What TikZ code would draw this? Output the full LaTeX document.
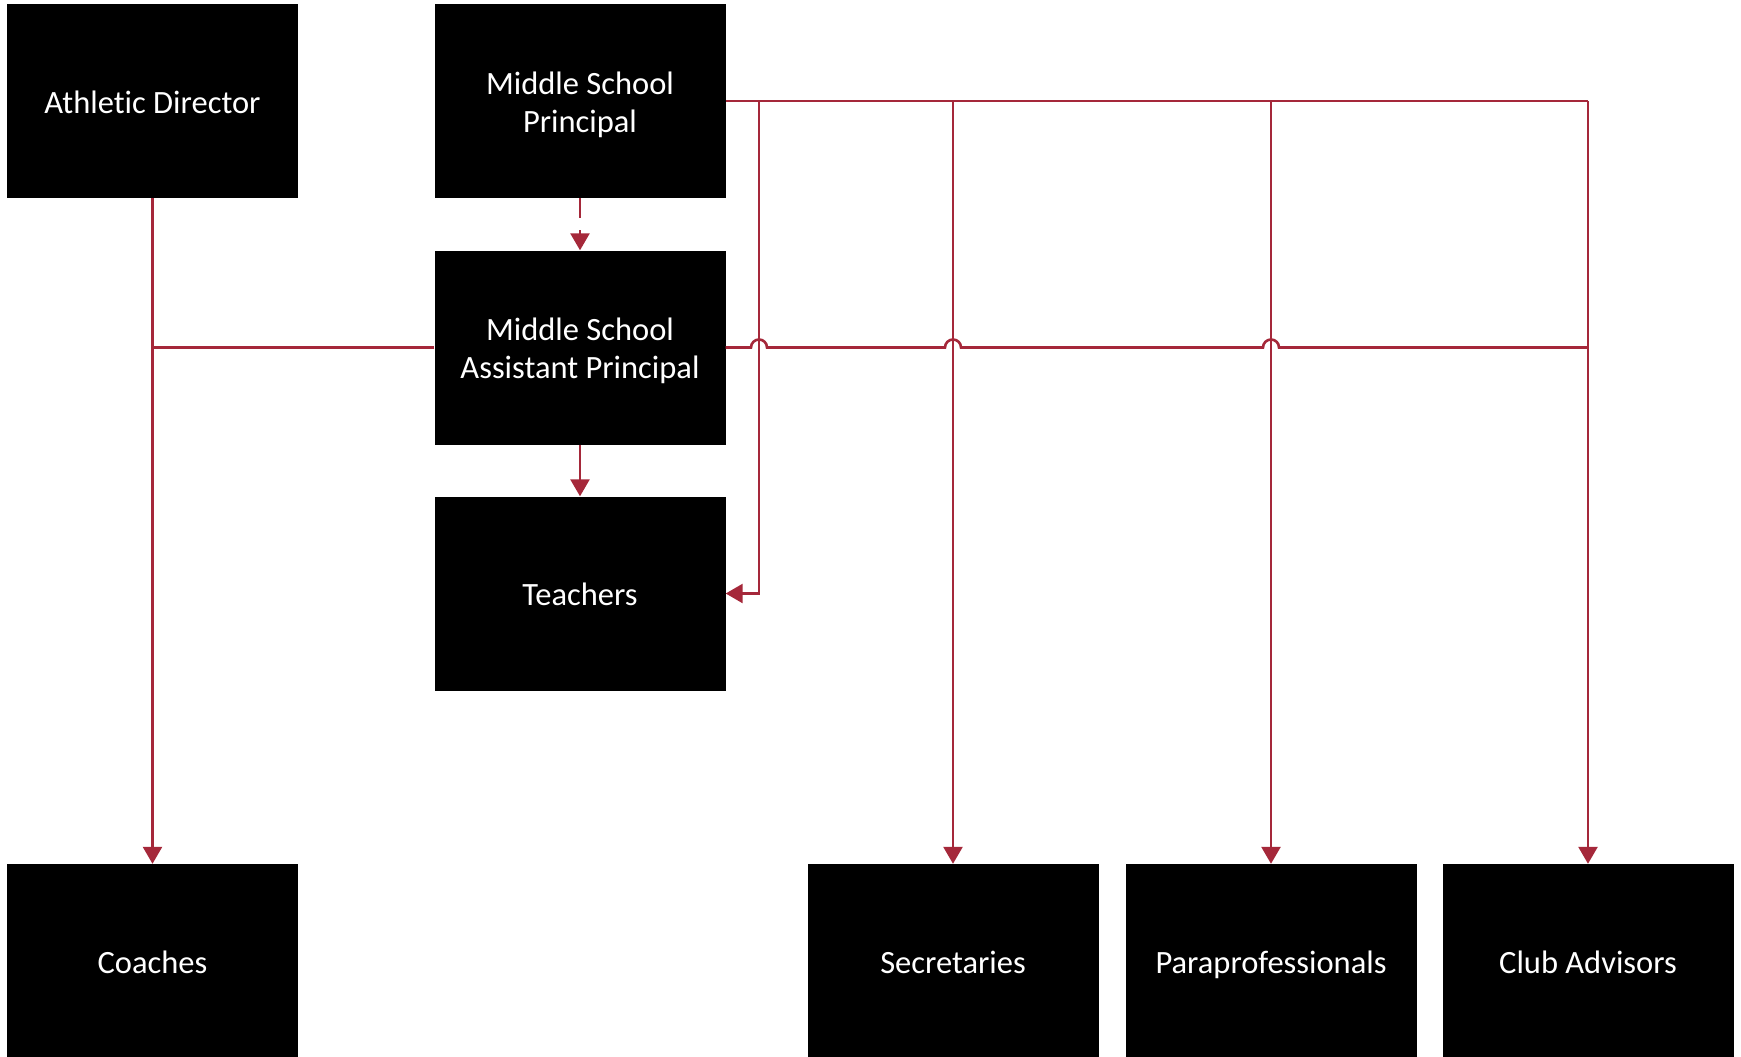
\documentclass[tikz,border=0pt]{standalone}
\usepackage{fontspec}
\setmainfont{Carlito}[Ligatures={NoCommon,NoRare},Contextuals={NoAlternate}]
\usetikzlibrary{arrows.meta,calc}
\definecolor{wire}{RGB}{165,40,58}
% strut that gives every text line the same height and depth
\newcommand\linestrut{\rule[-6.7pt]{0pt}{38pt}}
\begin{document}
\begin{tikzpicture}[x=1pt,y=1pt,
  box/.style={rectangle,fill=black,text=white,minimum width=291pt,minimum height=194pt,
    inner sep=0pt,align=center,font=\fontsize{32.5pt}{38pt}\selectfont},
  link/.style={draw=wire,line width=2.6pt},
  tip/.style={-{Triangle[length=17pt,width=19pt]}}]
\useasboundingbox (0,0) rectangle (1741,-1057);
\fill[white] (0,0) rectangle (1741,-1057);

% boxes
\node[box] (ad)    at (152.5,-101)   {\linestrut Athletic Director};
\node[box] (msp)   at (580,-101)     {\linestrut Middle School\\\linestrut Principal};
\node[box] (msap)  at (580,-347.5)   {\linestrut Middle School\\\linestrut Assistant Principal};
\node[box] (teach) at (580,-593.5)   {\linestrut Teachers};
\node[box] (coach) at (152.5,-961)   {\linestrut Coaches};
\node[box] (sec)   at (953,-961)     {\linestrut Secretaries};
\node[box] (para)  at (1271,-961)    {\linestrut Paraprofessionals};
\node[box] (club)  at (1588,-961)    {\linestrut Club Advisors};

% junction points
\coordinate (tbus) at (759,-101);
\coordinate (tcor) at (759,-593.5);

% principal's bus
\draw[link] (msp.east) -- (msp.east -| club.north);
\draw[link,tip] (msp.east -| club.north) -- (club.north);
\draw[link,tip] (msp.east -| sec.north) -- (sec.north);
\draw[link,tip] (msp.east -| para.north) -- (para.north);
\draw[link,tip] (tbus) -- (tcor) -- (teach.east);

% principal to assistant principal
\draw[link,tip,dash pattern=on 20pt off 12pt] (msp.south) -- (msap.north);

% assistant principal to teachers
\draw[link,tip] (msap.south) -- (teach.north);

% athletic director to coaches
\draw[link,tip] (ad.south) -- (coach.north);

% assistant principal bus, hopping over the crossing lines
\draw[link] (msap.west) -- (msap.west -| ad.south);
\draw[link,line join=miter]
  (msap.east)
  -- ($(msap.east -| tbus)+(-8,0)$) arc[start angle=180,end angle=0,radius=8]
  -- ($(msap.east -| sec.north)+(-8,0)$) arc[start angle=180,end angle=0,radius=8]
  -- ($(msap.east -| para.north)+(-8,0)$) arc[start angle=180,end angle=0,radius=8]
  -- (msap.east -| club.north);
\end{tikzpicture}
\end{document}
